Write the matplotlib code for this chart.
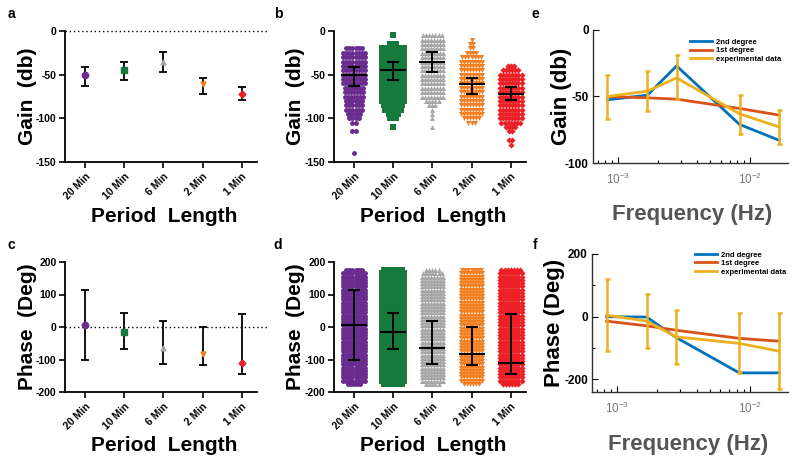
import matplotlib
matplotlib.use('Agg')
import matplotlib.pyplot as plt

plt.rcParams['font.family'] = ['Liberation Sans', 'DejaVu Sans']
plt.rcParams['axes.unicode_minus'] = False
plt.rcParams['mathtext.fontset'] = 'custom'
plt.rcParams['mathtext.rm'] = 'Liberation Sans'

# ---------------- data ----------------
categories = ['20 Min', '10 Min', '6 Min', '2 Min', '1 Min']
colors = ['#6A2C8E', '#157A3C', '#A7A7A9', '#F47F20', '#EC2128']
markers = ['o', 's', '^', 'v', 'D']

gain_median = [-50, -45, -36, -61, -72]
gain_upper = [-41, -36, -24, -54, -64]
gain_lower = [-63, -56, -47, -72, -79]

phase_median = [5, -15, -65, -83, -110]
phase_upper = [113, 43, 20, 0, 40]
phase_lower = [-100, -68, -115, -118, -144]

gain_levels = [-5, -10, -15, -20, -25, -30, -35, -40, -45, -50, -55, -60, -65, -70,
               -75, -80, -85, -90, -95, -100, -105, -110, -115, -120, -125, -130, -135, -140]
gain_counts_20min = [0, 0, 0, 6, 8, 8, 8, 8, 8, 8, 8, 8, 7, 7, 7, 6, 6, 6, 5, 4, 2, 0, 2, 0, 0, 0, 0, 1]
gain_counts_10min = [1, 0, 3, 8, 8, 8, 8, 8, 8, 8, 8, 8, 8, 8, 8, 8, 7, 6, 4, 3, 0, 1, 0, 0, 0, 0, 0, 0]
gain_counts_6min = [7, 8, 8, 8, 8, 8, 8, 8, 8, 8, 8, 8, 8, 8, 8, 5, 3, 1, 1, 1, 0, 1, 0, 0, 0, 0, 0, 0]
gain_counts_2min = [0, 1, 2, 2, 4, 7, 8, 8, 8, 8, 8, 8, 8, 8, 8, 8, 8, 8, 8, 6, 3, 0, 0, 0, 0, 0, 0, 0]
gain_counts_1min = [0, 0, 0, 0, 0, 0, 0, 3, 6, 8, 8, 8, 8, 8, 8, 8, 8, 8, 8, 8, 7, 4, 2, 0, 2, 1, 0, 0]

phase_levels = [175, 165, 155, 145, 135, 125, 115, 105, 95, 85, 75, 65, 55, 45, 35, 25, 15, 5,
                -5, -15, -25, -35, -45, -55, -65, -75, -85, -95, -105, -115, -125, -135, -145,
                -155, -165, -175]
phase_counts_20min = [6, 8, 8, 8, 8, 8, 8, 8, 8, 8, 8, 8, 8, 8, 8, 8, 8, 8,
                      8, 8, 8, 8, 8, 8, 8, 8, 8, 8, 8, 8, 8, 8, 8, 8, 8, 5]
phase_counts_10min = [7, 8, 8, 8, 8, 8, 8, 8, 8, 8, 8, 8, 8, 8, 8, 8, 8, 8,
                      8, 8, 8, 8, 8, 8, 8, 8, 8, 8, 8, 8, 8, 8, 8, 8, 8, 7]
phase_counts_6min = [5, 7, 8, 8, 8, 8, 8, 8, 8, 8, 8, 8, 8, 8, 8, 8, 8, 8,
                     8, 8, 8, 8, 8, 8, 8, 8, 8, 8, 8, 8, 8, 8, 8, 8, 8, 5]
phase_counts_2min = [7, 8, 8, 8, 8, 8, 8, 8, 8, 8, 8, 8, 8, 8, 8, 8, 8, 8,
                     8, 8, 8, 8, 8, 8, 8, 8, 8, 8, 8, 8, 8, 8, 8, 8, 8, 6]
phase_counts_1min = [7, 8, 8, 8, 8, 8, 8, 8, 8, 8, 8, 8, 8, 8, 8, 8, 8, 8,
                     8, 8, 8, 8, 8, 8, 8, 8, 8, 8, 8, 8, 8, 8, 8, 8, 8, 6]

freq_hz = [0.000833, 0.00167, 0.00278, 0.00833, 0.0167]
exp_gain = [-50, -46, -36, -63, -73]
exp_gain_hi = [-34, -31, -19, -49, -60]
exp_gain_lo = [-67, -61, -52, -78, -86]
fit2_gain = [-52.5, -49, -27, -71, -83]
fit1_gain = [-50, -51, -52, -59, -64]

exp_phase = [5, -14, -64, -85, -110]
exp_phase_hi = [120, 71, 21, 13, 11]
exp_phase_lo = [-110, -99, -151, -181, -229]
fit2_phase = [0, -1, -66, -179, -179]
fit1_phase = [-14, -29, -43, -69, -78]

# ---------------- layout ----------------
W, H = 800, 463
fig = plt.figure(figsize=(8, 4.63), dpi=100)


def box(l, t, r, b):
    return fig.add_axes([l / W, 1 - b / H, (r - l) / W, (b - t) / H])


def style_prism(ax, ylim, yticks, ylabel, ylab_x):
    ax.set_xlim(-0.51, 4.39)
    ax.set_ylim(*ylim)
    ax.set_yticks(yticks)
    ax.set_xticks(range(len(categories)))
    ax.set_xticklabels(categories, rotation=45, ha='right', rotation_mode='anchor',
                       fontsize=7, fontweight='bold')
    for lab in ax.get_yticklabels():
        lab.set_fontweight('bold')
    ax.tick_params(direction='out', length=4, width=1.2, labelsize=7.5, pad=2)
    ax.tick_params(axis='x', pad=3)
    for sp in ['top', 'right']:
        ax.spines[sp].set_visible(False)
    for sp in ['left', 'bottom']:
        ax.spines[sp].set_linewidth(1.3)
    ax.set_ylabel(ylabel, fontsize=15, fontweight='bold')
    ax.yaxis.set_label_coords(ylab_x, 0.5)
    ax.set_xlabel('Period  Length', fontsize=15, fontweight='bold')
    ax.xaxis.set_label_coords(0.518, -0.34)


def summary(ax, med, up, lo):
    for i in range(len(med)):
        ax.errorbar([i], [med[i]], yerr=[[med[i] - lo[i]], [up[i] - med[i]]], fmt='none',
                    ecolor='k', elinewidth=1.3, capsize=3, capthick=1.3, zorder=2)
        ax.plot([i], [med[i]], marker=markers[i], color=colors[i], ms=4.5 if i < 2 else 3.5,
                mec=colors[i], ls='none', zorder=3)


marker_area = {'o': 12.5, 's': 15, '^': 13, 'v': 13, 'D': 10}


def swarm_panel(ax, levels, counts_list, med, up, lo):
    dx = 0.079
    for i, counts in enumerate(counts_list):
        xs, ys = [], []
        for lv, n in zip(levels, counts):
            for k in range(n):
                xs.append(i + (k - (n - 1) / 2) * dx)
                ys.append(lv)
        ax.scatter(xs, ys, s=marker_area[markers[i]], c=colors[i],
                   marker=markers[i], linewidths=0, zorder=1, clip_on=False)
    for i in range(len(med)):
        ax.errorbar([i], [med[i]], yerr=[[med[i] - lo[i]], [up[i] - med[i]]], fmt='_',
                    color='k', ms=19, mew=1.5, elinewidth=1.4, capsize=4.3, capthick=1.4,
                    zorder=3)


# panel a
ax_a = box(65, 31, 257, 162)
ax_a.axhline(0, xmin=0, xmax=1.05, color='k', lw=1, ls=(0, (1, 2)), clip_on=False)
summary(ax_a, gain_median, gain_upper, gain_lower)
style_prism(ax_a, (-150, 0), [0, -50, -100, -150], 'Gain  (db)', -0.145)

# panel b
ax_b = box(334, 31, 526, 162)
swarm_panel(ax_b, gain_levels,
            [gain_counts_20min, gain_counts_10min, gain_counts_6min, gain_counts_2min,
             gain_counts_1min], gain_median, gain_upper, gain_lower)
style_prism(ax_b, (-150, 0), [0, -50, -100, -150], 'Gain  (db)', -0.151)

# panel c
ax_c = box(65, 262, 257, 392)
ax_c.axhline(0, xmin=0, xmax=1.05, color='k', lw=1, ls=(0, (1, 2)), clip_on=False)
summary(ax_c, phase_median, phase_upper, phase_lower)
style_prism(ax_c, (-200, 200), [-200, -100, 0, 100, 200], 'Phase  (Deg)', -0.145)

# panel d
ax_d = box(334, 262, 526, 392)
swarm_panel(ax_d, phase_levels,
            [phase_counts_20min, phase_counts_10min, phase_counts_6min, phase_counts_2min,
             phase_counts_1min], phase_median, phase_upper, phase_lower)
style_prism(ax_d, (-200, 200), [-200, -100, 0, 100, 200], 'Phase  (Deg)', -0.151)

# panels e, f
BLUE, RED, YEL = '#0072BD', '#D95319', '#EDB120'


def bode(ax, exp, hi, lo, fit2, fit1, ylim, yticks, minor, ylabel, leg_anchor, xlab_x, ylab_x):
    l2, = ax.plot(freq_hz, fit2, color=BLUE, lw=2, zorder=2)
    l1, = ax.plot(freq_hz, fit1, color=RED, lw=2, zorder=2)
    err = [[e - b for e, b in zip(exp, lo)], [t - e for e, t in zip(exp, hi)]]
    eb = ax.errorbar(freq_hz, exp, yerr=err, color=YEL, lw=2, elinewidth=1.8,
                     capsize=1.8, capthick=1.8, zorder=3)
    ax.set_xscale('log')
    ax.set_xlim(6.47e-4, 0.0194)
    ax.set_ylim(*ylim)
    ax.set_yticks(yticks)
    ax.set_yticks(minor, minor=True)
    ax.set_xticks([1e-3, 1e-2])
    for sp in ['top', 'right']:
        ax.spines[sp].set_visible(False)
    for sp in ['left', 'bottom']:
        ax.spines[sp].set_linewidth(1.0)
        ax.spines[sp].set_color('#333333')
    ax.tick_params(which='both', direction='in', width=0.8)
    ax.tick_params(which='major', length=4)
    ax.tick_params(which='minor', length=2.5)
    ax.tick_params(axis='y', labelsize=8.5, pad=3)
    ax.tick_params(axis='x', labelsize=8.5, labelcolor='#777777', pad=6)
    for lab in ax.get_yticklabels():
        lab.set_fontweight('bold')
    ax.set_ylabel(ylabel, fontsize=16, fontweight='bold')
    ax.yaxis.set_label_coords(ylab_x, 0.5)
    ax.set_xlabel('Frequency (Hz)', fontsize=16, fontweight='bold', color='#555555')
    ax.xaxis.set_label_coords(xlab_x, -0.305)
    ax.legend([l2, l1, eb.lines[0]], ['2nd degree', '1st degree', 'experimental data'],
              loc='upper left', bbox_to_anchor=leg_anchor, frameon=False,
              prop={'size': 5.5, 'weight': 'bold'}, handlelength=2.9, handletextpad=0.5,
              labelspacing=0.15, borderaxespad=0, borderpad=0)


ax_e = box(593, 30, 788, 163)
bode(ax_e, exp_gain, exp_gain_hi, exp_gain_lo, fit2_gain, fit1_gain, (-100, 0),
     [0, -50, -100], [], 'Gain (db)', (0.497, 0.935), 0.51, -0.11)

ax_f = box(592, 254, 788, 392)
bode(ax_f, exp_phase, exp_phase_hi, exp_phase_lo, fit2_phase, fit1_phase, (-240, 200),
     [-200, 0, 200], [-100, 100], 'Phase (Deg)', (0.525, 1.02), 0.49, -0.14)

# panel letters
for letter, x, y in [('a', 11, 14), ('b', 278, 14), ('e', 535, 14),
                     ('c', 11, 245), ('d', 278, 245), ('f', 535, 245)]:
    fig.text(x / W, 1 - y / H, letter, fontsize=10, fontweight='bold', ha='center', va='center')

fig.savefig('out.png', dpi=100)
